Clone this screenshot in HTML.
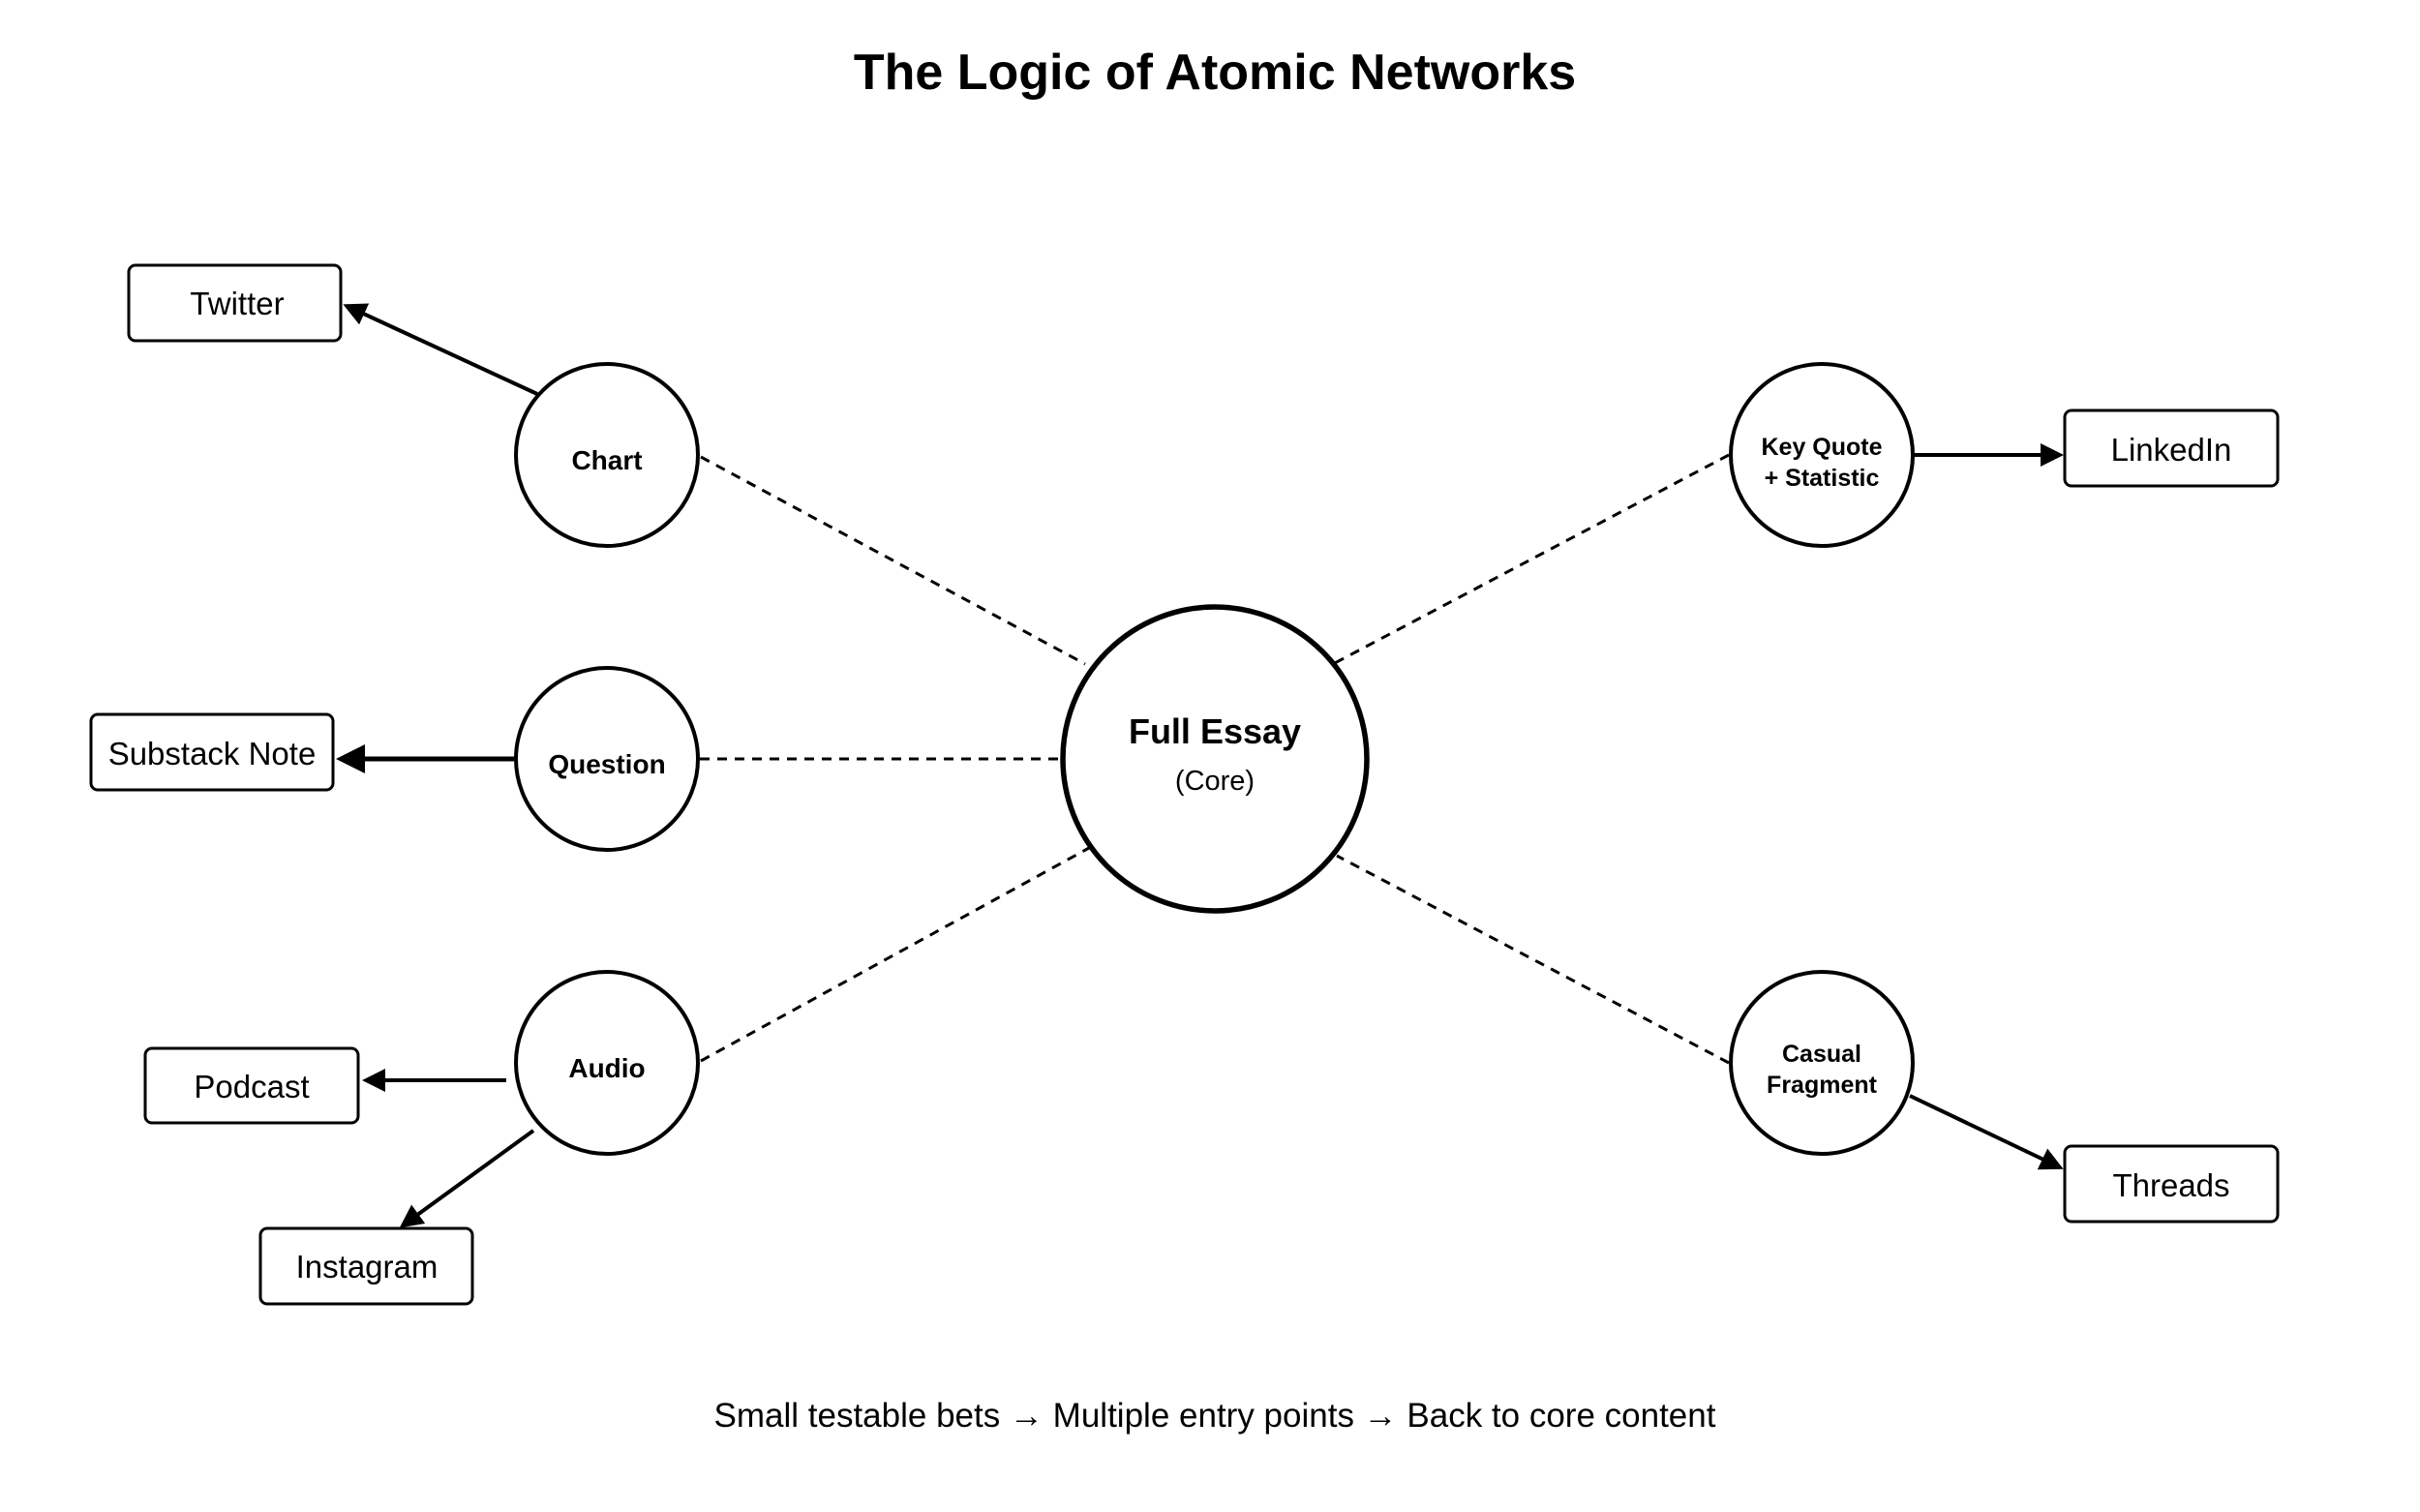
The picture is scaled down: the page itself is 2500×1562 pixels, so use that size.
<!DOCTYPE html>
<html><head><meta charset="utf-8"><style>html,body{margin:0;padding:0;background:#fff}svg{display:block}</style></head>
<body>
<svg width="2500" height="1562" viewBox="0 0 2500 1562" xmlns="http://www.w3.org/2000/svg" font-family="Liberation Sans, Arial, sans-serif">
<defs>
<marker id="ah" markerWidth="6" markerHeight="6" refX="5" refY="3" orient="auto" markerUnits="strokeWidth">
<path d="M0,0 L6,3 L0,6 Z" fill="#000"/>
</marker>
</defs>
<rect width="2500" height="1562" fill="#fff"/>
<text x="1255" y="92" font-size="52" font-weight="bold" text-anchor="middle">The Logic of Atomic Networks</text>

<g stroke="#000" stroke-width="3" stroke-dasharray="10,8" fill="none">
<line x1="724" y1="472" x2="1121" y2="686"/>
<line x1="723" y1="784" x2="1094" y2="784"/>
<line x1="724" y1="1096" x2="1125" y2="876"/>
<line x1="1786" y1="470" x2="1377" y2="686"/>
<line x1="1786" y1="1098" x2="1381" y2="884"/>
</g>

<g stroke="#000" stroke-width="4" fill="none">
<line x1="555" y1="407" x2="358" y2="316" marker-end="url(#ah)"/>
<line x1="533" y1="784" x2="352" y2="784" stroke-width="5" marker-end="url(#ah)"/>
<line x1="523" y1="1116" x2="378" y2="1116" marker-end="url(#ah)"/>
<line x1="551" y1="1168" x2="416" y2="1266" marker-end="url(#ah)"/>
<line x1="1977" y1="470" x2="2128" y2="470" marker-end="url(#ah)"/>
<line x1="1973" y1="1132" x2="2128" y2="1206" marker-end="url(#ah)"/>
</g>

<g stroke="#000" stroke-width="4" fill="#fff">
<circle cx="627" cy="470" r="94"/>
<circle cx="627" cy="784" r="94"/>
<circle cx="627" cy="1098" r="94"/>
<circle cx="1882" cy="470" r="94"/>
<circle cx="1882" cy="1098" r="94"/>
<circle cx="1255" cy="784" r="157" stroke-width="5.5"/>
</g>

<g stroke="#000" stroke-width="3" fill="#fff">
<rect x="133" y="274" width="219" height="78" rx="7"/>
<rect x="94" y="738" width="250" height="78" rx="7"/>
<rect x="150" y="1083" width="220" height="77" rx="7"/>
<rect x="269" y="1269" width="219" height="78" rx="7"/>
<rect x="2133" y="424" width="220" height="78" rx="7"/>
<rect x="2133" y="1184" width="220" height="78" rx="7"/>
</g>

<g font-size="28" font-weight="bold" text-anchor="middle">
<text x="627" y="485">Chart</text>
<text x="627" y="799">Question</text>
<text x="627" y="1113">Audio</text>
<text x="1882" y="470" font-size="25">Key Quote</text>
<text x="1882" y="502" font-size="25">+ Statistic</text>
<text x="1882" y="1097" font-size="25">Casual</text>
<text x="1882" y="1129" font-size="25">Fragment</text>
<text x="1255" y="768" font-size="36">Full Essay</text>
</g>
<text x="1255" y="816" font-size="29" text-anchor="middle">(Core)</text>

<g font-size="33" text-anchor="middle">
<text x="245" y="325">Twitter</text>
<text x="219" y="790">Substack Note</text>
<text x="260" y="1134">Podcast</text>
<text x="379" y="1320">Instagram</text>
<text x="2243" y="476">LinkedIn</text>
<text x="2243" y="1236">Threads</text>
</g>

<text x="1255" y="1474" font-size="35" text-anchor="middle">Small testable bets → Multiple entry points → Back to core content</text>
</svg>
</body></html>
